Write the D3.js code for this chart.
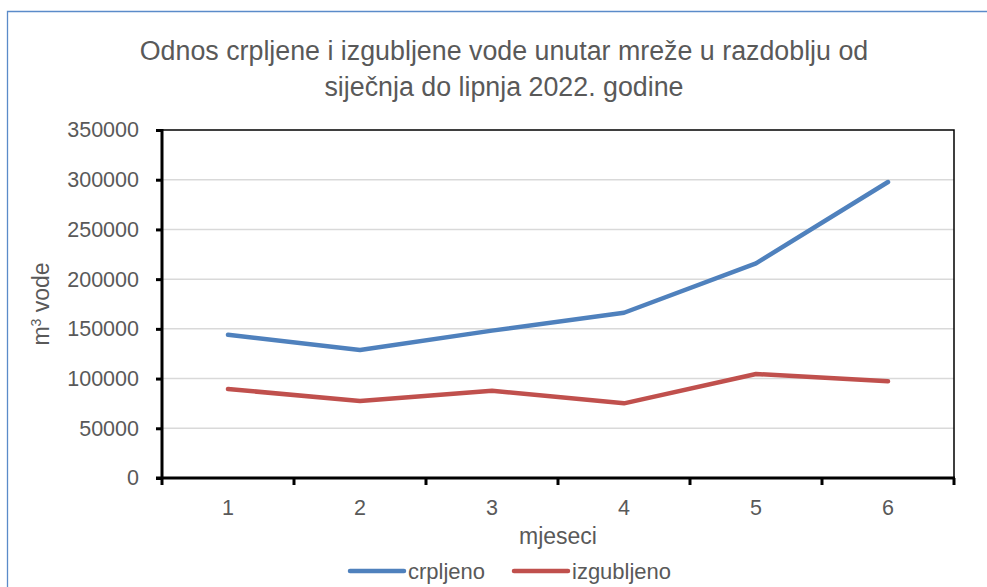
<!DOCTYPE html>
<html>
<head>
<meta charset="utf-8">
<script src="https://cdn.jsdelivr.net/npm/d3@7.9.0/dist/d3.min.js"></script>
<style>
  body { margin: 0; background: #fff; }
  text { font-family: "Liberation Sans", Arial, sans-serif; fill: #595959; }
</style>
</head>
<body>
<div id="vis"></div>
<script>
// data
const months = ['1', '2', '3', '4', '5', '6'];
const crpljeno = [144100, 128700, 148200, 166200, 215900, 297700];
const izgubljeno = [89500, 77400, 87800, 75100, 104600, 97200];
const yTicks = [0, 50000, 100000, 150000, 200000, 250000, 300000, 350000];
const titleLines = ['Odnos crpljene i izgubljene vode unutar mreže u razdoblju od',
                    'siječnja do lipnja 2022. godine'];

const W = 987, H = 587;
const pLeft = 162, pRight = 954, pTop = 130, pBottom = 478;
const FONT = '"Liberation Sans", Arial, sans-serif';

const svg = d3.select('#vis').append('svg')
    .attr('width', W).attr('height', H);

// outer chart frame (runs off the right/bottom edge)
svg.append('path')
    .attr('d', `M7.5,${H + 5}V11.5H${W + 5}`)
    .attr('fill', 'none')
    .attr('stroke', '#5b8bc9')
    .attr('stroke-width', 1.3);

// title
svg.append('text')
    .attr('text-anchor', 'middle')
    .attr('font-size', 26.8)
  .selectAll('tspan')
  .data(titleLines)
  .join('tspan')
    .attr('x', 504)
    .attr('y', (d, i) => 60 + i * 36)
    .text(d => d);

// scales
const x = d3.scaleBand().domain(months).range([pLeft, pRight]);
const y = d3.scaleLinear().domain([0, 350000]).range([pBottom, pTop]);

// gridlines
svg.append('g')
  .selectAll('line')
  .data(yTicks.slice(1, -1))
  .join('line')
    .attr('x1', pLeft).attr('x2', pRight)
    .attr('y1', d => y(d)).attr('y2', d => y(d))
    .attr('stroke', '#d9d9d9').attr('stroke-width', 1.5);

// top / right frame of plot
svg.append('path')
    .attr('d', `M${pLeft},${pTop}H${pRight}V${pBottom}`)
    .attr('fill', 'none').attr('stroke', '#000').attr('stroke-width', 1.5);

// y axis
const yAxis = svg.append('g')
    .attr('transform', `translate(${pLeft},0)`)
    .call(d3.axisLeft(y).tickValues(yTicks).tickSize(6).tickPadding(17).tickFormat(d3.format('d')));
yAxis.select('.domain').attr('stroke', '#000').attr('stroke-width', 3).attr('d', `M0,${pTop - 1}V${pBottom + 1}`);
yAxis.selectAll('.tick line').attr('stroke', '#000').attr('stroke-width', 3);
yAxis.selectAll('.tick text').attr('font-size', 21.5).attr('fill', '#595959')
    .style('font-family', FONT);

// x axis, ticks between categories
const xAxis = svg.append('g')
    .attr('transform', `translate(0,${pBottom})`)
    .call(d3.axisBottom(x).tickSize(0).tickPadding(22));
xAxis.select('.domain').attr('stroke', '#000').attr('stroke-width', 3).attr('d', `M${pLeft - 6},0H${pRight + 1}`);
xAxis.selectAll('.tick text').attr('font-size', 21.5).attr('fill', '#595959')
    .style('font-family', FONT);
xAxis.selectAll('line.sep')
  .data(months.concat(['end']))
  .join('line')
    .attr('class', 'sep')
    .attr('x1', (d, i) => pLeft + i * x.bandwidth())
    .attr('x2', (d, i) => pLeft + i * x.bandwidth())
    .attr('y1', 0).attr('y2', 7)
    .attr('stroke', '#000').attr('stroke-width', 3);

// axis titles
svg.append('text')
    .attr('x', (pLeft + pRight) / 2).attr('y', 544)
    .attr('text-anchor', 'middle').attr('font-size', 23)
    .text('mjeseci');

const yTitle = svg.append('text')
    .attr('transform', `translate(49,${(pTop + pBottom) / 2}) rotate(-90)`)
    .attr('text-anchor', 'middle').attr('font-size', 23);
yTitle.append('tspan').text('m');
yTitle.append('tspan').attr('dy', -8).attr('font-size', 14).text('3');
yTitle.append('tspan').attr('dy', 8).text(' vode');

// lines
const series = [
  { name: 'crpljeno', values: crpljeno, color: '#4f81bd' },
  { name: 'izgubljeno', values: izgubljeno, color: '#c0504d' }
];
const line = d3.line()
    .x((d, i) => x(months[i]) + x.bandwidth() / 2)
    .y(d => y(d));

svg.append('g')
  .selectAll('path')
  .data(series)
  .join('path')
    .attr('d', d => line(d.values))
    .attr('fill', 'none')
    .attr('stroke', d => d.color)
    .attr('stroke-width', 4.5)
    .attr('stroke-linecap', 'round')
    .attr('stroke-linejoin', 'round');

// legend
const legendX = [350, 514];
const leg = svg.append('g')
  .selectAll('g')
  .data(series)
  .join('g')
    .attr('transform', (d, i) => `translate(${legendX[i]},571)`);
leg.append('line')
    .attr('x1', 0).attr('x2', 54)
    .attr('stroke', d => d.color).attr('stroke-width', 4.5).attr('stroke-linecap', 'round');
leg.append('text')
    .attr('x', 58).attr('dy', '0.35em')
    .attr('font-size', 22)
    .text(d => d.name);
</script>
</body>
</html>
